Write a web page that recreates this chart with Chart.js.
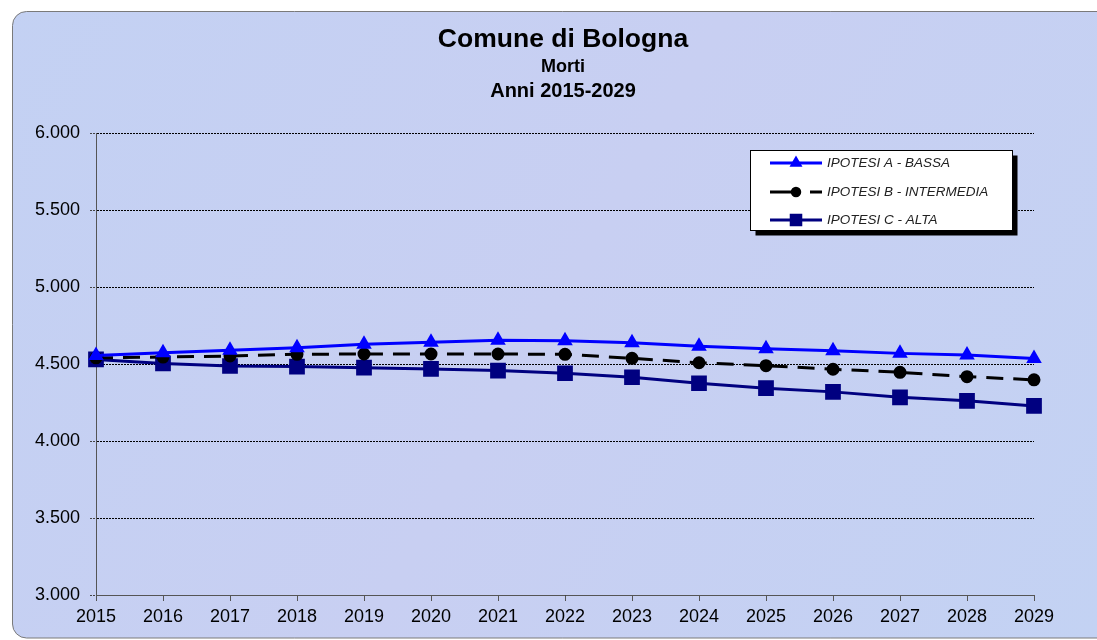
<!DOCTYPE html>
<html>
<head>
<meta charset="utf-8">
<script src="https://cdn.jsdelivr.net/npm/chart.js@4/dist/chart.umd.min.js"></script>
<style>
  html, body { margin: 0; padding: 0; background: #ffffff; }
  #wrap { width: 1097px; height: 640px; position: relative; }
</style>
</head>
<body>
<div id="wrap"><canvas id="c" width="1097" height="640"></canvas></div>
<script>
const titleLines = ["Comune di Bologna", "Morti", "Anni 2015-2029"];
const years = ["2015","2016","2017","2018","2019","2020","2021","2022","2023","2024","2025","2026","2027","2028","2029"];
const seriesNames = ["IPOTESI A - BASSA", "IPOTESI B - INTERMEDIA", "IPOTESI C - ALTA"];
const ipotesiA = [4555, 4573, 4590, 4605, 4629, 4642, 4655, 4651, 4638, 4616, 4599, 4586, 4569, 4558, 4535];
const ipotesiB = [4540, 4545, 4552, 4563, 4565, 4565, 4565, 4563, 4537, 4508, 4489, 4466, 4446, 4418, 4397];
const ipotesiC = [4530, 4504, 4487, 4483, 4476, 4468, 4457, 4440, 4414, 4375, 4343, 4319, 4284, 4261, 4228];
const yMin = 3000, yMax = 6000, yStep = 500;

function fmtIt(v) {
  return String(Math.round(v)).replace(/\B(?=(\d{3})+(?!\d))/g, ".");
}

const bgPlugin = {
  id: 'bg',
  beforeDraw(chart) {
    const ctx = chart.ctx;
    ctx.save();
    ctx.fillStyle = '#ffffff';
    ctx.fillRect(0, 0, chart.width, chart.height);
    const x = 12.5, y = 11.5, w = 1120, h = 626.5, r = 14;
    ctx.beginPath();
    ctx.moveTo(x + r, y);
    ctx.lineTo(x + w, y);
    ctx.lineTo(x + w, y + h);
    ctx.lineTo(x + r, y + h);
    ctx.arcTo(x, y + h, x, y + h - r, r);
    ctx.lineTo(x, y + r);
    ctx.arcTo(x, y, x + r, y, r);
    ctx.closePath();
    const g = ctx.createLinearGradient(0, 0, 1097, 640);
    g.addColorStop(0, '#c3d1f3');
    g.addColorStop(0.5, '#c8cff2');
    g.addColorStop(1, '#c3d2f3');
    ctx.fillStyle = g;
    ctx.fill();
    ctx.strokeStyle = '#7a7a7a';
    ctx.lineWidth = 1;
    ctx.stroke();
    ctx.restore();
  },
  afterDraw(chart) {
    const ctx = chart.ctx;
    ctx.save();
    ctx.fillStyle = '#000';
    ctx.textAlign = 'center';
    ctx.textBaseline = 'middle';
    const cx = (chart.chartArea.left + chart.chartArea.right) / 2 - 2;
    ctx.font = 'bold 26.5px "Liberation Sans", Arial, sans-serif';
    ctx.fillText(titleLines[0], cx, 40);
    ctx.font = 'bold 18px "Liberation Sans", Arial, sans-serif';
    ctx.fillText(titleLines[1], cx, 67);
    ctx.font = 'bold 20px "Liberation Sans", Arial, sans-serif';
    ctx.fillText(titleLines[2], cx, 91);

    const lx = 750.5, ly = 150.5, lw = 262, lh = 80;
    ctx.fillStyle = '#000';
    ctx.fillRect(lx + 5, ly + 5, lw, lh);
    ctx.fillStyle = '#ffffff';
    ctx.fillRect(lx, ly, lw, lh);
    ctx.strokeStyle = '#000';
    ctx.lineWidth = 1;
    ctx.strokeRect(lx, ly, lw, lh);
    const rowsY = [163, 192, 220];
    chart.data.datasets.forEach((ds, i) => {
      const yy = rowsY[i];
      ctx.save();
      ctx.strokeStyle = ds.borderColor;
      ctx.lineWidth = ds.borderWidth;
      ctx.setLineDash(ds.borderDash ? [30, 10] : []);
      ctx.beginPath();
      ctx.moveTo(770, yy);
      ctx.lineTo(822, yy);
      ctx.stroke();
      ctx.setLineDash([]);
      Chart.helpers.drawPoint(ctx, {
        pointStyle: ds.pointStyle,
        radius: ds.pointRadius * 0.75,
        rotation: 0,
        borderWidth: 1
      }, 796, yy);
      ctx.fillStyle = ds.pointBackgroundColor;
      ctx.fill();
      ctx.restore();
      ctx.fillStyle = '#222';
      ctx.textAlign = 'left';
      ctx.textBaseline = 'middle';
      ctx.font = 'italic 13.5px "Liberation Sans", Arial, sans-serif';
      ctx.fillText(ds.label, 827, yy);
    });
    ctx.restore();
  }
};

const ctx = document.getElementById('c').getContext('2d');
new Chart(ctx, {
  type: 'line',
  data: {
    labels: years,
    datasets: [
      {
        label: seriesNames[0], data: ipotesiA,
        borderColor: '#0000ff', backgroundColor: '#0000ff',
        pointBackgroundColor: '#0000ff', pointBorderColor: '#0000ff',
        borderWidth: 3, pointStyle: 'triangle', pointRadius: 6, tension: 0
      },
      {
        label: seriesNames[1], data: ipotesiB,
        borderColor: '#000000', backgroundColor: '#000000',
        pointBackgroundColor: '#000000', pointBorderColor: '#000000',
        borderWidth: 3, borderDash: [17, 10], pointStyle: 'circle', pointRadius: 5, tension: 0
      },
      {
        label: seriesNames[2], data: ipotesiC,
        borderColor: '#000080', backgroundColor: '#000080',
        pointBackgroundColor: '#000080', pointBorderColor: '#000080',
        borderWidth: 3, pointStyle: 'rect', pointRadius: 9, tension: 0
      }
    ]
  },
  options: {
    responsive: false,
    animation: false,
    devicePixelRatio: 1,
    layout: { padding: { top: 133, right: 63, left: 0, bottom: 0 } },
    plugins: {
      legend: { display: false },
      title: { display: false },
      tooltip: { enabled: false }
    },
    scales: {
      x: {
        offset: false,
        grid: { drawOnChartArea: false, color: '#555', tickLength: 6, lineWidth: 1 },
        border: { color: '#555', width: 1 },
        ticks: { color: '#000', font: { family: '"Liberation Sans", Arial, sans-serif', size: 18 }, padding: 5, maxRotation: 0, autoSkip: false },
        afterFit(s) { s.height = 45; }
      },
      y: {
        min: yMin, max: yMax,
        grid: { color: '#000', lineWidth: 1, tickLength: 6, tickColor: '#444', tickBorderDash: [2, 1] },
        border: { color: '#555', width: 1, dash: [2, 1] },
        ticks: {
          stepSize: yStep, color: '#000', padding: 10,
          font: { family: '"Liberation Sans", Arial, sans-serif', size: 18 },
          callback: (v) => fmtIt(v)
        },
        afterFit(s) { s.width = 96; }
      }
    }
  },
  plugins: [bgPlugin]
});
</script>
</body>
</html>
